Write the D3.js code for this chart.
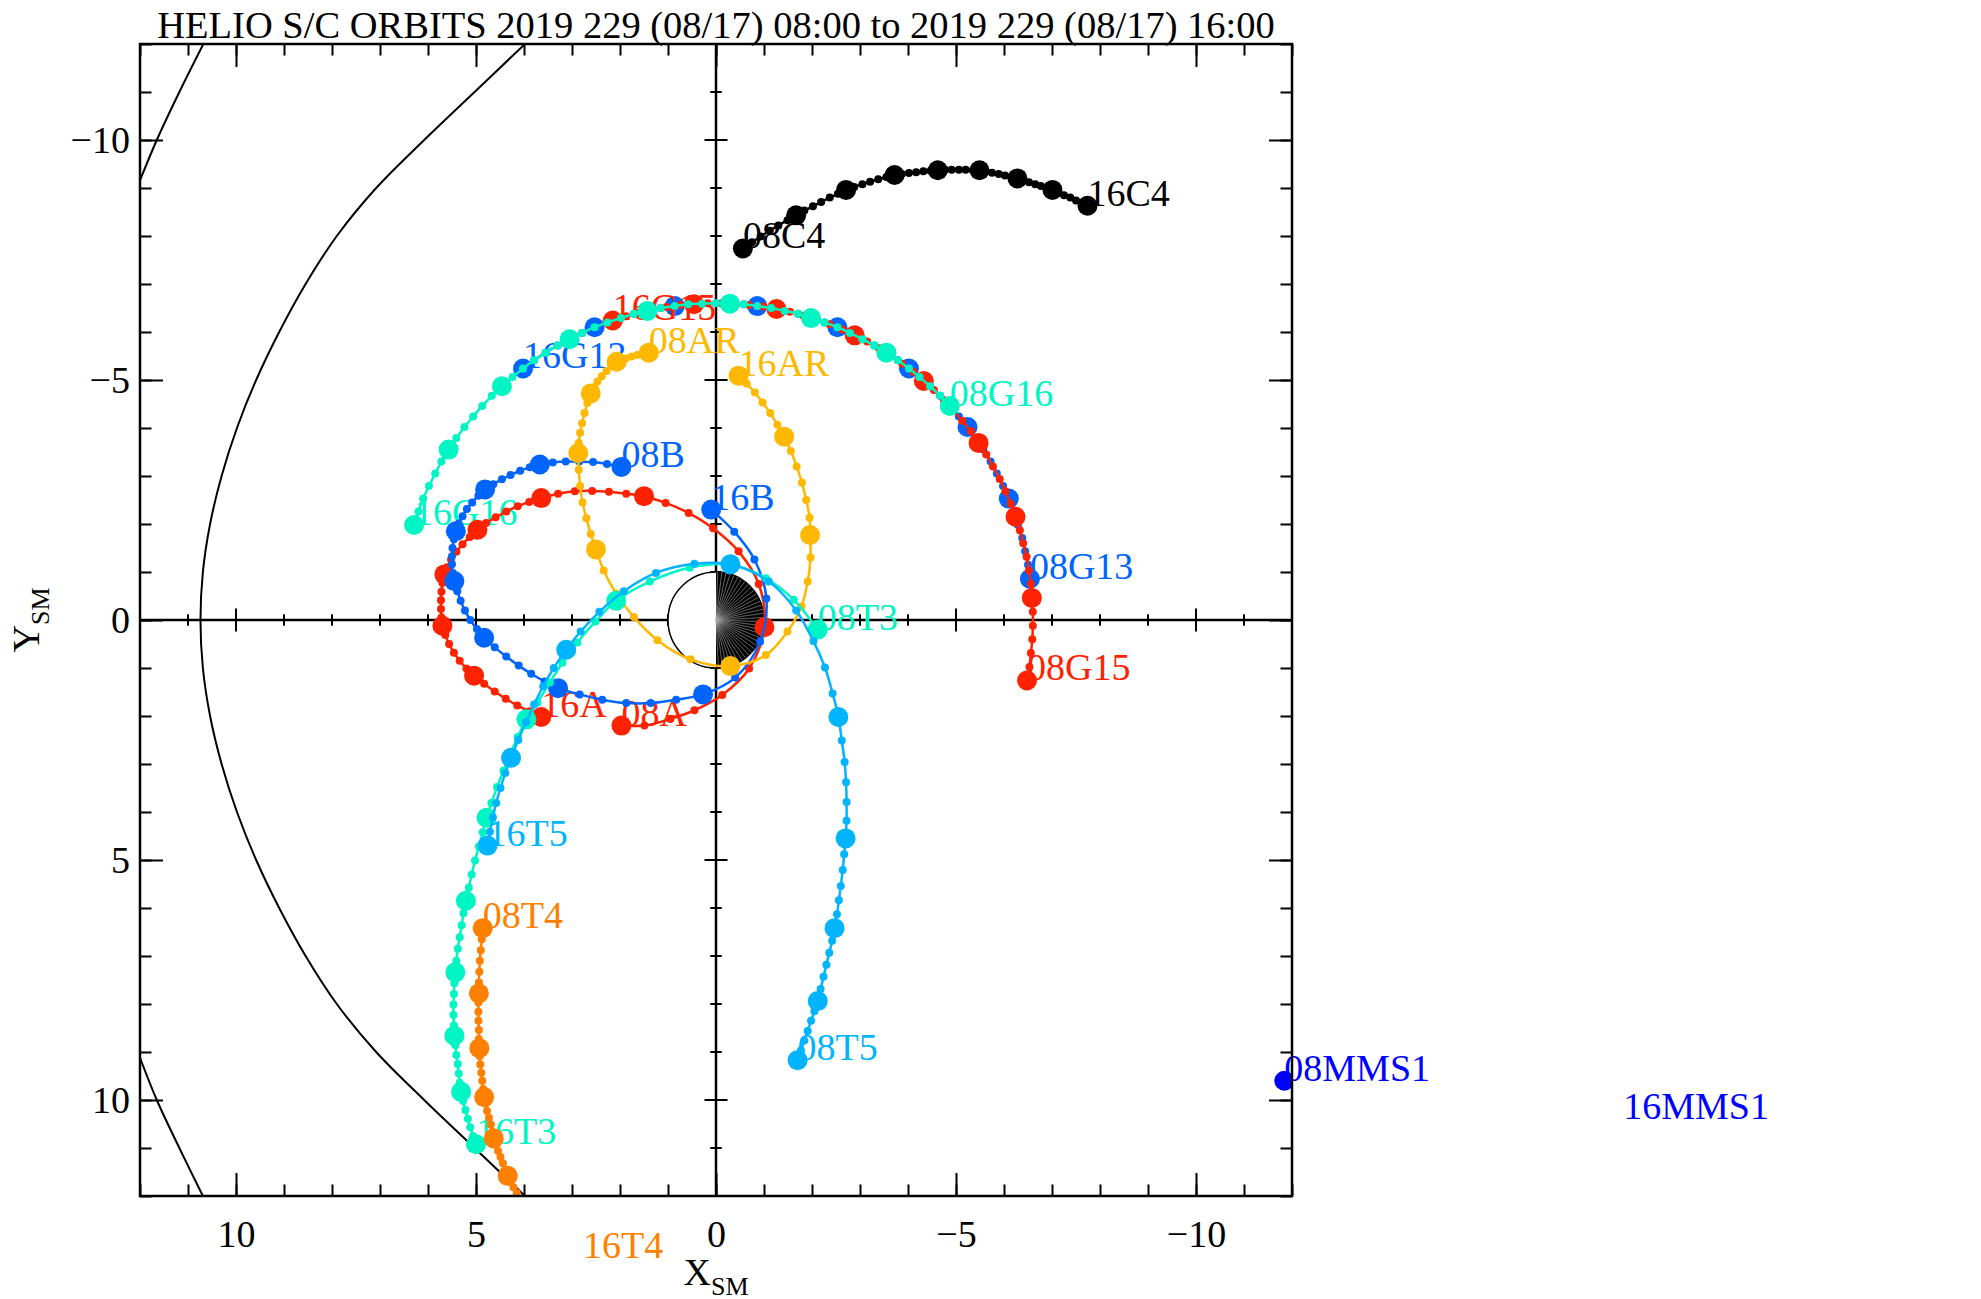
<!DOCTYPE html>
<html>
<head>
<meta charset="utf-8">
<script src="https://cdn.jsdelivr.net/npm/d3@7"></script>
<style>
  body { margin: 0; background: #fff; }
  svg { display: block; }
  text { font-family: "Liberation Serif", "Times New Roman", serif; }
</style>
</head>
<body>
<svg width="1981" height="1299"></svg>
<script>
// chart text and ticks
var titleText = "HELIO S/C ORBITS 2019 229 (08/17) 08:00 to 2019 229 (08/17) 16:00";
var xTickLabels = [10, 5, 0, -5, -10];
var yTickLabels = [-10, -5, 0, 5, 10];
var startTag = "08", endTag = "16";

// spacecraft drawn in this order
var craftNames = ["C4", "G13", "G15", "G16", "A", "B", "AR", "T3", "T4", "T5", "MMS1"];

// positions (X_SM, Y_SM) every 10 min, 08:00 -> 16:00
var orbitC4 = [[-0.56,-7.74],[-0.75,-7.87],[-0.93,-7.99],[-1.12,-8.11],[-1.30,-8.22],[-1.49,-8.33],
  [-1.67,-8.43],[-1.84,-8.53],[-2.02,-8.62],[-2.19,-8.71],[-2.37,-8.80],[-2.54,-8.88],
  [-2.71,-8.96],[-2.88,-9.02],[-3.05,-9.08],[-3.21,-9.13],[-3.38,-9.18],[-3.55,-9.23],
  [-3.72,-9.27],[-3.87,-9.29],[-4.02,-9.31],[-4.17,-9.33],[-4.32,-9.35],[-4.47,-9.36],
  [-4.62,-9.37],[-4.77,-9.38],[-4.91,-9.38],[-5.06,-9.38],[-5.20,-9.38],[-5.35,-9.37],
  [-5.49,-9.37],[-5.62,-9.35],[-5.75,-9.32],[-5.89,-9.29],[-6.02,-9.26],[-6.15,-9.23],
  [-6.28,-9.20],[-6.40,-9.16],[-6.52,-9.12],[-6.65,-9.08],[-6.77,-9.04],[-6.89,-9.00],
  [-7.01,-8.96],[-7.13,-8.91],[-7.25,-8.85],[-7.38,-8.80],[-7.50,-8.74],[-7.62,-8.69],
  [-7.74,-8.63]];

var orbitG13 = [[-6.54,-0.86],[-6.50,-1.15],[-6.44,-1.43],[-6.38,-1.71],[-6.29,-1.98],[-6.20,-2.26],
  [-6.10,-2.53],[-5.98,-2.79],[-5.85,-3.05],[-5.72,-3.30],[-5.57,-3.55],[-5.41,-3.79],
  [-5.24,-4.02],[-5.06,-4.24],[-4.87,-4.46],[-4.67,-4.67],[-4.46,-4.87],[-4.24,-5.06],
  [-4.02,-5.24],[-3.79,-5.41],[-3.55,-5.57],[-3.30,-5.72],[-3.05,-5.85],[-2.79,-5.98],
  [-2.53,-6.10],[-2.26,-6.20],[-1.98,-6.29],[-1.71,-6.38],[-1.43,-6.44],[-1.15,-6.50],
  [-0.86,-6.54],[-0.58,-6.58],[-0.29,-6.59],[0.00,-6.60],[0.29,-6.59],[0.58,-6.58],
  [0.86,-6.54],[1.15,-6.50],[1.43,-6.44],[1.71,-6.38],[1.98,-6.29],[2.26,-6.20],
  [2.53,-6.10],[2.79,-5.98],[3.05,-5.85],[3.30,-5.72],[3.55,-5.57],[3.79,-5.41],
  [4.02,-5.24]];

var orbitG15 = [[-6.48,1.26],[-6.53,0.98],[-6.56,0.69],[-6.59,0.40],[-6.60,0.12],[-6.60,-0.17],
  [-6.58,-0.46],[-6.56,-0.75],[-6.52,-1.03],[-6.47,-1.32],[-6.40,-1.60],[-6.33,-1.87],
  [-6.24,-2.15],[-6.14,-2.42],[-6.03,-2.68],[-5.91,-2.94],[-5.77,-3.20],[-5.63,-3.45],
  [-5.47,-3.69],[-5.31,-3.93],[-5.13,-4.15],[-4.94,-4.37],[-4.75,-4.58],[-4.54,-4.79],
  [-4.33,-4.98],[-4.11,-5.17],[-3.88,-5.34],[-3.64,-5.50],[-3.40,-5.66],[-3.15,-5.80],
  [-2.89,-5.93],[-2.63,-6.05],[-2.37,-6.16],[-2.09,-6.26],[-1.82,-6.34],[-1.54,-6.42],
  [-1.26,-6.48],[-0.98,-6.53],[-0.69,-6.56],[-0.40,-6.59],[-0.12,-6.60],[0.17,-6.60],
  [0.46,-6.58],[0.75,-6.56],[1.03,-6.52],[1.32,-6.47],[1.60,-6.40],[1.87,-6.33],
  [2.15,-6.24]];

var orbitG16 = [[-4.87,-4.46],[-4.67,-4.67],[-4.46,-4.87],[-4.24,-5.06],[-4.02,-5.24],[-3.79,-5.41],
  [-3.55,-5.57],[-3.30,-5.72],[-3.05,-5.85],[-2.79,-5.98],[-2.53,-6.10],[-2.26,-6.20],
  [-1.98,-6.29],[-1.71,-6.38],[-1.43,-6.44],[-1.15,-6.50],[-0.86,-6.54],[-0.58,-6.58],
  [-0.29,-6.59],[0.00,-6.60],[0.29,-6.59],[0.58,-6.58],[0.86,-6.54],[1.15,-6.50],
  [1.43,-6.44],[1.71,-6.38],[1.98,-6.29],[2.26,-6.20],[2.53,-6.10],[2.79,-5.98],
  [3.05,-5.85],[3.30,-5.72],[3.55,-5.57],[3.79,-5.41],[4.02,-5.24],[4.24,-5.06],
  [4.46,-4.87],[4.67,-4.67],[4.87,-4.46],[5.06,-4.24],[5.24,-4.02],[5.41,-3.79],
  [5.57,-3.55],[5.72,-3.30],[5.85,-3.05],[5.98,-2.79],[6.10,-2.53],[6.20,-2.26],
  [6.29,-1.98]];

var orbitA = [[1.97,2.20],[1.49,2.20],[0.95,2.06],[0.45,1.88],[-0.13,1.56],[-0.69,1.01],
  [-1.01,0.15],[-0.89,-0.75],[-0.47,-1.43],[0.06,-1.91],[0.57,-2.23],[1.05,-2.44],
  [1.50,-2.58],[1.87,-2.63],[2.23,-2.67],[2.58,-2.69],[2.94,-2.68],[3.29,-2.63],
  [3.64,-2.54],[3.89,-2.46],[4.13,-2.37],[4.37,-2.26],[4.59,-2.14],[4.79,-2.02],
  [4.97,-1.88],[5.13,-1.73],[5.28,-1.58],[5.41,-1.42],[5.52,-1.26],[5.60,-1.10],
  [5.66,-0.95],[5.70,-0.77],[5.72,-0.59],[5.73,-0.41],[5.73,-0.23],[5.72,-0.05],
  [5.70,0.12],[5.64,0.31],[5.56,0.50],[5.46,0.68],[5.34,0.85],[5.20,1.01],
  [5.04,1.16],[4.83,1.33],[4.61,1.49],[4.38,1.64],[4.14,1.78],[3.89,1.90],
  [3.64,2.02]];

var orbitB = [[1.97,-3.19],[2.27,-3.25],[2.56,-3.29],[2.85,-3.30],[3.13,-3.30],[3.40,-3.28],
  [3.67,-3.24],[3.88,-3.18],[4.08,-3.11],[4.28,-3.02],[4.46,-2.93],[4.64,-2.83],
  [4.81,-2.72],[4.95,-2.59],[5.08,-2.45],[5.19,-2.31],[5.28,-2.16],[5.36,-2.01],
  [5.42,-1.85],[5.46,-1.68],[5.49,-1.50],[5.50,-1.33],[5.50,-1.16],[5.48,-0.98],
  [5.45,-0.81],[5.39,-0.60],[5.32,-0.40],[5.23,-0.20],[5.12,0.00],[4.98,0.19],
  [4.83,0.37],[4.61,0.57],[4.37,0.76],[4.11,0.95],[3.85,1.12],[3.57,1.28],
  [3.29,1.42],[2.84,1.55],[2.37,1.66],[1.87,1.73],[1.36,1.73],[0.83,1.66],
  [0.27,1.55],[-0.40,1.20],[-0.92,0.45],[-1.05,-0.45],[-0.80,-1.26],[-0.38,-1.84],
  [0.10,-2.30]];

var orbitAR = [[1.40,-5.57],[1.52,-5.55],[1.64,-5.52],[1.76,-5.49],[1.88,-5.45],[1.98,-5.42],
  [2.07,-5.38],[2.18,-5.29],[2.28,-5.19],[2.38,-5.08],[2.47,-4.97],[2.54,-4.85],
  [2.61,-4.72],[2.68,-4.52],[2.74,-4.31],[2.79,-4.10],[2.83,-3.90],[2.86,-3.69],
  [2.87,-3.48],[2.86,-3.13],[2.83,-2.79],[2.78,-2.45],[2.70,-2.12],[2.61,-1.79],
  [2.50,-1.47],[2.34,-1.03],[2.08,-0.55],[1.71,-0.06],[1.22,0.42],[0.53,0.82],
  [-0.30,0.96],[-1.04,0.73],[-1.49,0.24],[-1.78,-0.28],[-1.91,-0.80],[-1.97,-1.30],
  [-1.96,-1.77],[-1.95,-2.13],[-1.88,-2.50],[-1.79,-2.86],[-1.68,-3.20],[-1.56,-3.52],
  [-1.42,-3.82],[-1.28,-4.07],[-1.13,-4.31],[-0.97,-4.53],[-0.81,-4.74],[-0.64,-4.92],
  [-0.47,-5.09]];

var orbitT3 = [[-2.12,0.20],[-1.62,-0.42],[-1.04,-0.87],[-0.30,-1.15],[0.55,-1.09],[1.38,-0.80],
  [2.08,-0.40],[2.51,0.03],[2.89,0.47],[3.20,0.89],[3.46,1.30],[3.72,1.72],
  [3.95,2.07],[4.13,2.44],[4.29,2.80],[4.43,3.14],[4.56,3.48],[4.68,3.81],
  [4.78,4.12],[4.86,4.42],[4.94,4.72],[5.02,5.01],[5.09,5.30],[5.15,5.58],
  [5.21,5.85],[5.26,6.11],[5.30,6.36],[5.34,6.61],[5.38,6.85],[5.41,7.10],
  [5.43,7.34],[5.45,7.57],[5.46,7.79],[5.47,8.01],[5.47,8.23],[5.46,8.45],
  [5.45,8.66],[5.43,8.86],[5.41,9.06],[5.38,9.25],[5.36,9.45],[5.34,9.64],
  [5.31,9.83],[5.27,10.02],[5.22,10.21],[5.17,10.39],[5.12,10.57],[5.06,10.75],
  [5.00,10.92]];

var orbitT4 = [[4.86,6.42],[4.88,6.65],[4.90,6.88],[4.92,7.10],[4.93,7.33],[4.94,7.55],
  [4.94,7.78],[4.95,7.97],[4.95,8.16],[4.95,8.35],[4.94,8.54],[4.94,8.73],
  [4.93,8.92],[4.92,9.09],[4.91,9.26],[4.89,9.43],[4.87,9.60],[4.85,9.77],
  [4.83,9.94],[4.80,10.08],[4.77,10.23],[4.73,10.37],[4.69,10.51],[4.66,10.66],
  [4.63,10.80],[4.59,10.93],[4.54,11.06],[4.49,11.19],[4.44,11.32],[4.39,11.45],
  [4.34,11.58],[4.28,11.70],[4.22,11.82],[4.15,11.94],[4.09,12.05],[4.02,12.17],
  [3.95,12.28],[3.86,12.38],[3.77,12.48],[3.68,12.57],[3.59,12.67],[3.50,12.76],
  [3.40,12.85],[3.30,12.93],[3.20,13.01],[3.09,13.08],[2.99,13.16],[2.88,13.23],
  [2.77,13.30]];

var orbitT5 = [[-1.70,9.17],[-1.77,8.97],[-1.84,8.76],[-1.91,8.56],[-1.98,8.35],[-2.05,8.15],
  [-2.12,7.94],[-2.18,7.69],[-2.24,7.43],[-2.30,7.18],[-2.36,6.93],[-2.42,6.68],
  [-2.47,6.42],[-2.52,6.13],[-2.56,5.84],[-2.60,5.54],[-2.64,5.21],[-2.67,4.88],
  [-2.70,4.55],[-2.72,4.18],[-2.72,3.79],[-2.71,3.38],[-2.68,2.96],[-2.62,2.51],
  [-2.55,2.02],[-2.43,1.53],[-2.27,0.99],[-2.03,0.44],[-1.67,-0.20],[-1.10,-0.80],
  [-0.30,-1.16],[0.45,-1.17],[1.25,-0.98],[1.92,-0.60],[2.43,-0.17],[2.82,0.24],
  [3.12,0.62],[3.38,1.00],[3.60,1.38],[3.79,1.76],[3.96,2.13],[4.12,2.50],
  [4.27,2.87],[4.39,3.19],[4.49,3.50],[4.58,3.81],[4.65,4.11],[4.71,4.41],
  [4.76,4.70]];

var orbitMMS1 = [[-11.84,9.60],[-12.04,9.62],[-12.20,9.65],[-12.36,9.67],[-12.52,9.70],[-12.69,9.72],
  [-12.85,9.74],[-13.01,9.76],[-13.17,9.79],[-13.33,9.81],[-13.48,9.83],[-13.64,9.85],
  [-13.80,9.87],[-13.95,9.89],[-14.10,9.91],[-14.25,9.93],[-14.40,9.95],[-14.55,9.97],
  [-14.70,9.99],[-14.85,10.01],[-15.00,10.03],[-15.15,10.05],[-15.30,10.07],[-15.45,10.08],
  [-15.60,10.10],[-15.74,10.12],[-15.88,10.14],[-16.02,10.15],[-16.17,10.17],[-16.31,10.19],
  [-16.45,10.21],[-16.59,10.22],[-16.73,10.24],[-16.88,10.25],[-17.02,10.27],[-17.16,10.28],
  [-17.30,10.30],[-17.44,10.31],[-17.58,10.32],[-17.72,10.34],[-17.87,10.35],[-18.01,10.36],
  [-18.15,10.37],[-18.28,10.38],[-18.40,10.39],[-18.52,10.39],[-18.65,10.40],[-18.77,10.40],
  [-18.90,10.40]];

// model boundaries
var magnetopause = [[3.98,-12.00],[5.03,-11.00],[6.08,-10.00],[7.08,-9.00],[7.90,-8.00],[8.55,-7.00],
  [9.10,-6.00],[9.58,-5.00],[9.98,-4.00],[10.30,-3.00],[10.54,-2.00],[10.69,-1.00],[10.74,0.00],
  [10.69,1.00],[10.54,2.00],[10.30,3.00],[9.98,4.00],[9.58,5.00],[9.10,6.00],
  [8.55,7.00],[7.90,8.00],[7.08,9.00],[6.08,10.00],[5.03,11.00],[3.98,12.00]];
var bowShockNorth = [[12.00,-9.16],[11.65,-10.00],[11.18,-11.00],[10.68,-12.00]];
var bowShockSouth = [[12.00,9.12],[11.65,10.00],[11.18,11.00],[10.69,12.00]];

var orbits = {C4: orbitC4, G13: orbitG13, G15: orbitG15, G16: orbitG16, A: orbitA, B: orbitB,
  AR: orbitAR, T3: orbitT3, T4: orbitT4, T5: orbitT5, MMS1: orbitMMS1};
var craftColor = {C4: "#000000", G13: "#0064ff", G15: "#ff2200", G16: "#00f5c4", A: "#ff2200",
  B: "#0064ff", AR: "#ffb800", T3: "#00f5c4", T4: "#ff8000", T5: "#00b4ff", MMS1: "#0000ff"};

var svg = d3.select("svg");
var plotL = 140, plotR = 1292, plotT = 44, plotB = 1196;

var x = d3.scaleLinear().domain([12, -12]).range([plotL, plotR]);
var y = d3.scaleLinear().domain([-12, 12]).range([plotT, plotB]);

svg.append("defs").append("clipPath").attr("id", "plotClip")
    .append("rect")
    .attr("x", plotL).attr("y", plotT)
    .attr("width", plotR - plotL).attr("height", plotB - plotT);

var base = svg.append("g").attr("clip-path", "url(#plotClip)");

// centre cross through the origin, with crossing ticks
base.append("line")
    .attr("x1", x(0)).attr("x2", x(0)).attr("y1", plotT).attr("y2", plotB)
    .attr("stroke", "black").attr("stroke-width", 2.5);
base.append("line")
    .attr("x1", plotL).attr("x2", plotR).attr("y1", y(0)).attr("y2", y(0))
    .attr("stroke", "black").attr("stroke-width", 2.5);

var unitTicks = x.ticks(24);
base.selectAll(".xcross")
    .data(unitTicks)
    .enter()
    .append("line")
    .attr("x1", function (d) { return x(d); })
    .attr("x2", function (d) { return x(d); })
    .attr("y1", function (d) { return y(0) - (d % 5 === 0 ? 11.5 : 5.75); })
    .attr("y2", function (d) { return y(0) + (d % 5 === 0 ? 11.5 : 5.75); })
    .attr("stroke", "black").attr("stroke-width", 2);
base.selectAll(".ycross")
    .data(y.ticks(24))
    .enter()
    .append("line")
    .attr("y1", function (d) { return y(d); })
    .attr("y2", function (d) { return y(d); })
    .attr("x1", function (d) { return x(0) - (d % 5 === 0 ? 11.5 : 5.75); })
    .attr("x2", function (d) { return x(0) + (d % 5 === 0 ? 11.5 : 5.75); })
    .attr("stroke", "black").attr("stroke-width", 2);

// magnetopause and bow shock
var smoothLine = d3.line()
    .x(function (d) { return x(d[0]); })
    .y(function (d) { return y(d[1]); })
    .curve(d3.curveCatmullRom);

[magnetopause, bowShockNorth, bowShockSouth].forEach(function (b) {
    base.append("path")
        .attr("d", smoothLine(b))
        .attr("fill", "none")
        .attr("stroke", "black")
        .attr("stroke-width", 2);
});

// Earth: day side open, night side filled
var earthR = x(0) - x(1);
var earth = base.append("g").attr("transform", "translate(" + x(0) + "," + y(0) + ")");
earth.append("circle").attr("r", earthR).attr("fill", "white")
    .attr("stroke", "black").attr("stroke-width", 1.5);
earth.append("path")
    .attr("d", d3.arc()({innerRadius: 0, outerRadius: earthR, startAngle: 0, endAngle: Math.PI}))
    .attr("fill", "black");
earth.selectAll(".ray")
    .data(d3.range(-88, 90, 5))
    .enter()
    .append("line")
    .attr("x1", 0).attr("y1", 0)
    .attr("x2", function (d) { return earthR * Math.cos(d * Math.PI / 180); })
    .attr("y2", function (d) { return earthR * Math.sin(d * Math.PI / 180); })
    .attr("stroke", "#a8a8a8").attr("stroke-width", 0.6);

// orbits, each followed by its own start / end labels (labels are not clipped)
craftNames.forEach(function (name) {
    var pts = orbits[name];
    var col = craftColor[name];
    var g = svg.append("g").attr("class", "craft-" + name);
    var marks = g.append("g").attr("clip-path", "url(#plotClip)");

    marks.append("path")
        .attr("d", smoothLine(pts))
        .attr("fill", "none")
        .attr("stroke", col)
        .attr("stroke-width", 2.5);

    marks.selectAll("circle")
        .data(pts)
        .enter()
        .append("circle")
        .attr("cx", function (d) { return x(d[0]); })
        .attr("cy", function (d) { return y(d[1]); })
        .attr("r", function (d, i) { return i % 6 === 0 ? 10 : 4; }) // big dot every hour
        .attr("fill", col);

    var first = pts[0], last = pts[pts.length - 1];
    g.append("text")
        .attr("x", x(first[0])).attr("y", y(first[1]))
        .attr("font-size", 38).attr("fill", col)
        .text(startTag + name);
    g.append("text")
        .attr("x", x(last[0])).attr("y", y(last[1]))
        .attr("font-size", 38).attr("fill", col)
        .text(endTag + name);
});

// frame with inward ticks
function styleAxis(sel) {
    sel.select(".domain").remove();
    sel.selectAll("line").attr("stroke-width", 2);
    sel.selectAll("text")
        .attr("font-family", "Liberation Serif, Times New Roman, serif")
        .attr("font-size", 38)
        .attr("fill", "black");
}

svg.append("g").attr("transform", "translate(0," + plotB + ")")
    .call(d3.axisBottom(x).tickValues(unitTicks).tickSize(-11.5).tickFormat(""))
    .call(styleAxis);
svg.append("g").attr("transform", "translate(0," + plotB + ")")
    .call(d3.axisBottom(x).tickValues(xTickLabels).tickSize(-23).tickPadding(24))
    .call(styleAxis);
svg.append("g").attr("transform", "translate(0," + plotT + ")")
    .call(d3.axisTop(x).tickValues(unitTicks).tickSize(-11.5).tickFormat(""))
    .call(styleAxis);
svg.append("g").attr("transform", "translate(0," + plotT + ")")
    .call(d3.axisTop(x).tickValues(xTickLabels).tickSize(-23).tickFormat(""))
    .call(styleAxis);
svg.append("g").attr("transform", "translate(" + plotL + ",0)")
    .call(d3.axisLeft(y).tickValues(y.ticks(24)).tickSize(-11.5).tickFormat(""))
    .call(styleAxis);
svg.append("g").attr("transform", "translate(" + plotL + ",0)")
    .call(d3.axisLeft(y).tickValues(yTickLabels).tickSize(-23).tickPadding(10))
    .call(styleAxis);
svg.append("g").attr("transform", "translate(" + plotR + ",0)")
    .call(d3.axisRight(y).tickValues(y.ticks(24)).tickSize(-11.5).tickFormat(""))
    .call(styleAxis);
svg.append("g").attr("transform", "translate(" + plotR + ",0)")
    .call(d3.axisRight(y).tickValues(yTickLabels).tickSize(-23).tickFormat(""))
    .call(styleAxis);

svg.append("rect")
    .attr("x", plotL).attr("y", plotT)
    .attr("width", plotR - plotL).attr("height", plotB - plotT)
    .attr("fill", "none").attr("stroke", "black").attr("stroke-width", 2.5);

// title and axis names
svg.append("text")
    .attr("x", x(0)).attr("y", 38)
    .attr("text-anchor", "middle")
    .attr("font-size", 38.5)
    .text(titleText);

var xName = svg.append("text")
    .attr("x", x(0)).attr("y", 1285)
    .attr("text-anchor", "middle")
    .attr("font-size", 38);
xName.append("tspan").text("X");
xName.append("tspan").attr("font-size", 26).attr("dy", 10).text("SM");

var yName = svg.append("text")
    .attr("transform", "translate(39," + y(0) + ") rotate(-90)")
    .attr("text-anchor", "middle")
    .attr("font-size", 38);
yName.append("tspan").text("Y");
yName.append("tspan").attr("font-size", 26).attr("dy", 10).text("SM");
</script>
</body>
</html>
